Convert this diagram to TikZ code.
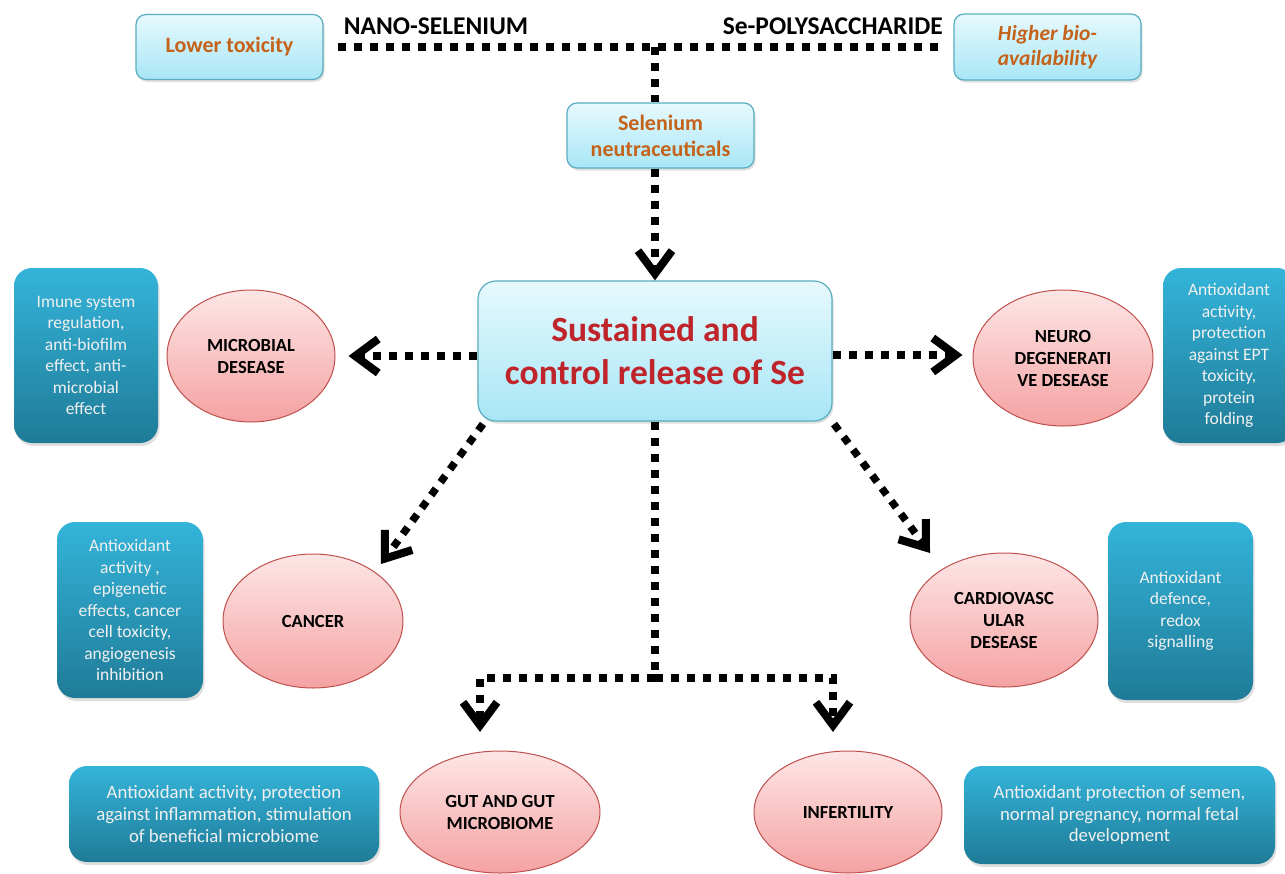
\documentclass[tikz,border=0pt]{standalone}
\usepackage{fontspec}
\setmainfont{Carlito}
\usetikzlibrary{arrows.meta,shapes.geometric,shadows}
\definecolor{lighttop}{HTML}{E6F9FD}
\definecolor{lightbot}{HTML}{A8E6F6}
\definecolor{boxedge}{HTML}{5AADBF}
\definecolor{pinktop}{HTML}{FDE6E6}
\definecolor{pinkbot}{HTML}{F5A2A2}
\definecolor{elledge}{HTML}{C0504D}
\definecolor{tealtop}{HTML}{34B4DA}
\definecolor{tealbot}{HTML}{1F7B97}
\definecolor{orangetxt}{HTML}{C5621A}
\definecolor{titlered}{HTML}{C0242B}
\tikzset{
  lightbox/.style={draw=boxedge, line width=1.2pt, rounded corners=10pt,
    top color=lighttop, bottom color=lightbot, align=center, text=orangetxt,
    font=\bfseries\fontsize{22}{26}\selectfont, inner sep=2pt,
    drop shadow={opacity=0.25, shadow xshift=1.5pt, shadow yshift=-2.5pt}},
  tealbox/.style={rounded corners=18pt, top color=tealtop, bottom color=tealbot,
    text=white!94!black, align=center, font=\fontsize{17.5}{21.5}\selectfont, inner sep=2pt,
    drop shadow={opacity=0.25, shadow xshift=1.5pt, shadow yshift=-3pt}},
  widebox/.style={tealbox, font=\fontsize{18.8}{21.7}\selectfont},
  pinkell/.style={ellipse, draw=elledge, line width=1pt, top color=pinktop,
    bottom color=pinkbot, align=center, font=\bfseries\fontsize{18.5}{22}\selectfont,
    inner sep=0pt},
  toplabel/.style={font=\bfseries\fontsize{25.5}{28}\selectfont, inner sep=0pt},
  dotline/.style={line width=7.5pt, dash pattern=on 8pt off 8pt},
  dotarrow/.style={dotline, -{Straight Barb[length=23pt,width=34pt,line width=8pt]}},
}
\begin{document}
\begin{tikzpicture}[x=1pt,y=-1pt]
\useasboundingbox (0,0) rectangle (1285,873);
\fill[white] (0,0) rectangle (1285,873);

% top row
\node[lightbox, minimum width=187pt, minimum height=65pt] (lowtox) at (229.5,47) {Lower toxicity};
\node[lightbox, minimum width=187pt, minimum height=66pt, font=\bfseries\itshape\fontsize{21.5}{25}\selectfont] (highbio) at (1047.5,47) {Higher bio-\\availability};
\node[toplabel] (nano) at (436,26) {NANO-SELENIUM};
\node[toplabel, anchor=east] (sepoly) at (943,26) {Se-POLYSACCHARIDE};
\node[lightbox, minimum width=187pt, minimum height=65pt] (seneu) at (660.5,135.5) {Selenium\\neutraceuticals};

% main box
\node[lightbox, minimum width=354pt, minimum height=140pt, rounded corners=18pt,
  text=titlered, font=\bfseries\fontsize{35.5}{43}\selectfont] (main) at (655,351) {Sustained and\\control release of Se};

% ellipses
\node[pinkell, minimum width=168pt, minimum height=132pt] (micro) at (251,356) {MICROBIAL\\DESEASE};
\node[pinkell, minimum width=180pt, minimum height=136pt] (neuro) at (1063,358) {NEURO\\DEGENERATI\\VE DESEASE};
\node[pinkell, minimum width=180pt, minimum height=134pt] (cancer) at (313,621) {CANCER};
\node[pinkell, minimum width=188pt, minimum height=134pt] (cardio) at (1004,620) {CARDIOVASC\\ULAR\\DESEASE};
\node[pinkell, minimum width=200pt, minimum height=122pt] (gut) at (500,812) {GUT AND GUT\\MICROBIOME};
\node[pinkell, minimum width=188pt, minimum height=122pt] (infert) at (848,812) {INFERTILITY};

% teal boxes
\node[tealbox, minimum width=144pt, minimum height=175pt] (microtxt) at (86,355.5) {Imune system\\regulation,\\anti-biofilm\\effect, anti-\\microbial\\effect};
\node[tealbox, minimum width=132pt, minimum height=175pt] (neurotxt) at (1229,355.5) {Antioxidant\\activity,\\protection\\against EPT\\toxicity,\\protein\\folding};
\node[tealbox, minimum width=146pt, minimum height=176pt] (cancertxt) at (130,610) {Antioxidant\\activity ,\\epigenetic\\effects, cancer\\cell toxicity,\\angiogenesis\\inhibition};
\node[tealbox, minimum width=145pt, minimum height=178pt] (cardiotxt) at (1180.5,611) {Antioxidant\\defence,\\redox\\signalling};
\node[widebox, minimum width=310pt, minimum height=96pt] (guttxt) at (224,814) {Antioxidant activity, protection\\against inflammation, stimulation\\of beneficial microbiome};
\node[widebox, minimum width=311pt, minimum height=98pt] (inferttxt) at (1119.5,815) {Antioxidant protection of semen,\\normal pregnancy, normal fetal\\development};

% connectors
\coordinate (j) at (655,47);
\draw[dotline] ([xshift=14pt]lowtox.east) -- ([xshift=-9pt]highbio.west);
\draw[dotline] (j) -- (j |- seneu.north);
\draw[dotarrow] (seneu.south -| j) -- (main.north);
\draw[dotarrow, shorten >=13pt] (main.west |- micro.east) -- (micro.east);
\draw[dotarrow, shorten >=10pt] (main.east |- 0,355) -- (neuro.west |- 0,355);
\coordinate (cstart) at (483,424);
\coordinate (ctip) at (381,564);
\draw[dotarrow] (cstart) -- (ctip);
\coordinate (dstart) at (834,424);
\coordinate (dtip) at (930,553);
\draw[dotarrow] (dstart) -- (dtip);
\coordinate (hub) at (655,678);
\coordinate (gtip) at (480,732);
\coordinate (itip) at (833,732);
\draw[dotline] (main.south) -- (hub);
\draw[dotarrow] (hub) -| (gtip);
\draw[dotarrow] (hub) -| (itip);
\end{tikzpicture}
\end{document}
